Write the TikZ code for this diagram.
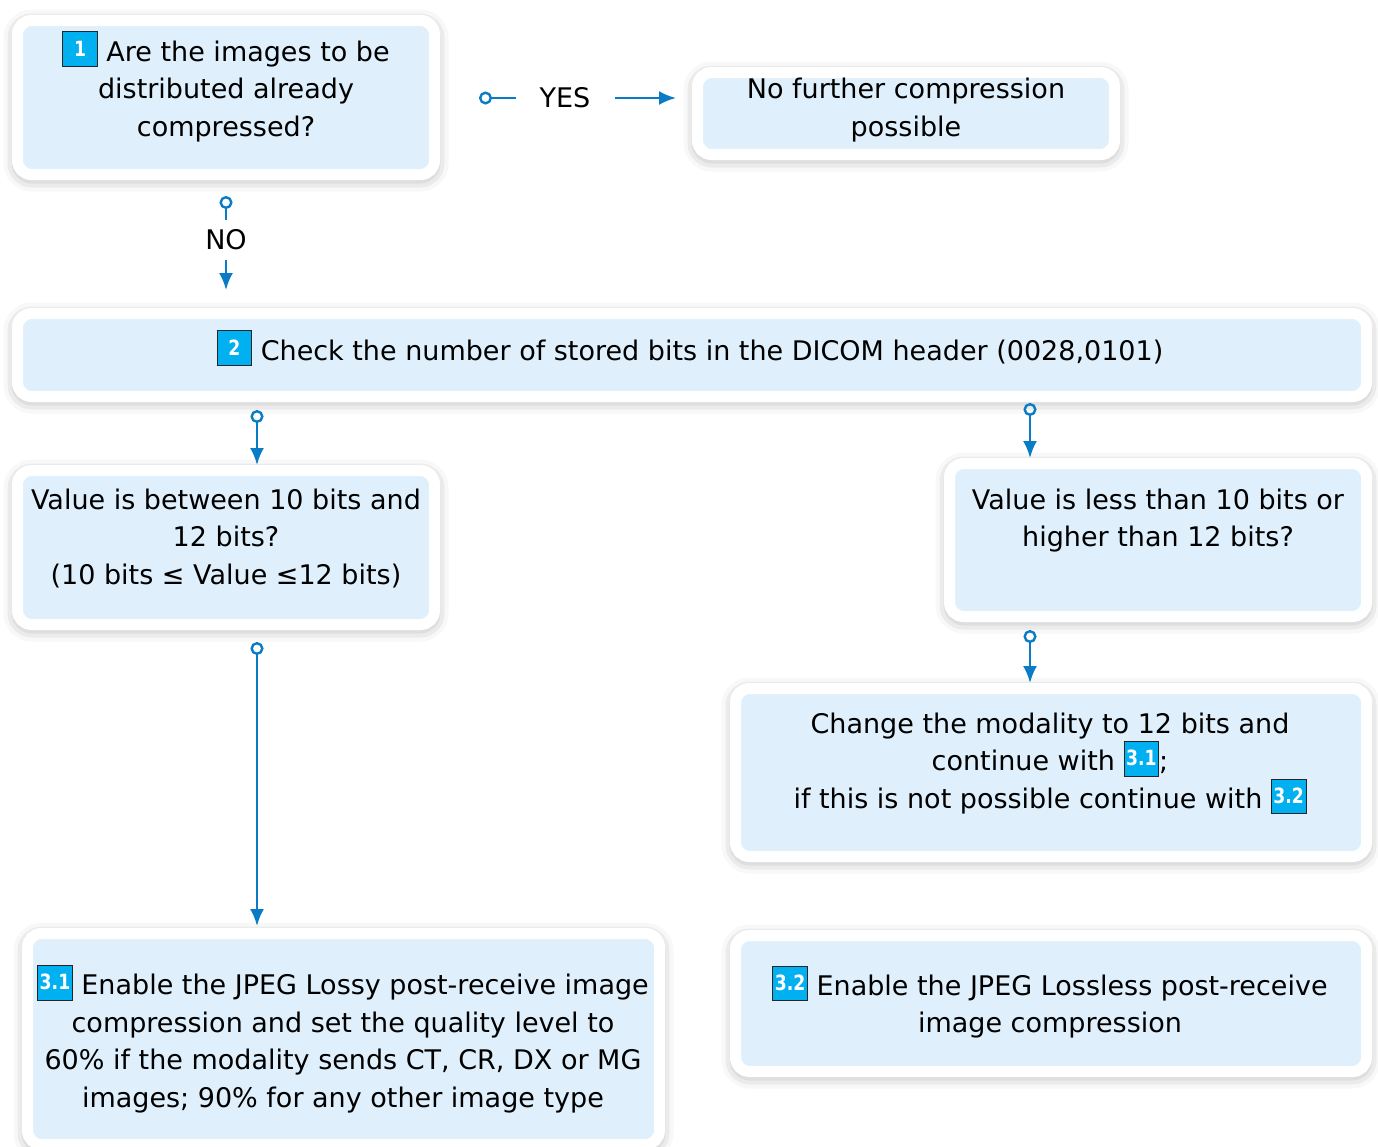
\documentclass[tikz,border=0pt]{standalone}
\usepackage{fontspec}
\setmainfont{DejaVu Sans}
\usetikzlibrary{arrows.meta,shadows.blur}

\definecolor{boxblue}{HTML}{DFF0FC}
\definecolor{linkblue}{HTML}{0A7CC6}
\definecolor{stepblue}{HTML}{00B0F0}

\setlength{\fboxrule}{0.8pt}
\setlength{\fboxsep}{3pt}
\newcommand{\stepno}[1]{\fcolorbox{black!85}{stepblue}{\makebox[28pt]{\rule[-2pt]{0pt}{28pt}\raisebox{5pt}{\color{white}\scalebox{0.82}[1]{\fontsize{21}{21}\selectfont\bfseries #1}}}}}

\tikzset{
  box/.style={draw=white, line width=11pt, fill=boxblue, rounded corners=14pt,
    inner sep=0pt, blur shadow={shadow xshift=0pt, shadow yshift=-3pt,
    shadow blur radius=14pt, shadow opacity=42}},
  txt/.style={align=center, inner sep=0pt, font=\fontsize{27}{37.5}\selectfont},
  linkline/.style={draw=linkblue, line width=2.4pt},
  link/.style={linkline, {Circle[open, length=13pt, width=13pt, line width=2.4pt]}-{Latex[length=17pt, width=14pt]}},
  linkstart/.style={linkline, {Circle[open, length=13pt, width=13pt, line width=2.4pt]}-},
  linkend/.style={linkline, -{Latex[length=17pt, width=14pt]}},
}

\begin{document}
\begin{tikzpicture}[x=1pt, y=-1pt]
\useasboundingbox (0,0) rectangle (1378,1146);

% boxes
\node[box, minimum width=417pt, minimum height=154pt] (q1) at (226,97.5) {};
\node[box, minimum width=417pt, minimum height=82pt] (nocomp) at (906,113.5) {};
\node[box, minimum width=1349pt, minimum height=83pt] (q2) at (692,355) {};
\node[box, minimum width=417pt, minimum height=154pt] (inrange) at (226,547.5) {};
\node[box, minimum width=417pt, minimum height=153pt] (outrange) at (1158,540) {};
\node[box, minimum width=631pt, minimum height=168pt] (change) at (1051,772.5) {};
\node[box, minimum width=632pt, minimum height=211pt] (lossy) at (343.5,1039) {};
\node[box, minimum width=631pt, minimum height=136pt] (lossless) at (1051,1003.5) {};

% texts
\node[txt] (q1t) at (226,86.5) {\stepno{1} Are the images to be\\distributed already\\compressed?};
\node[txt] (nocompt) at (906,110) {No further compression\\possible};
\node[txt] (q2t) at (690,348) {\stepno{2} Check the number of stored bits in the DICOM header (0028,0101)};
\node[txt] (inranget) at (226,538.5) {Value is between 10 bits and\\12 bits?\\(10 bits ≤ Value ≤12 bits)};
\node[txt] (outranget) at (1158,520.5) {Value is less than 10 bits or\\higher than 12 bits?};
\node[txt] (changet) at (1050,763.5) {Change the modality to 12 bits and\\continue with \stepno{3.1};\\if this is not possible continue with \stepno{3.2}};
\node[txt] (lossyt) at (343,1039) {\stepno{3.1} Enable the JPEG Lossy post-receive image\\compression and set the quality level to\\60\% if the modality sends CT, CR, DX or MG\\images; 90\% for any other image type};
\node[txt] (losslesst) at (1050,1002) {\stepno{3.2} Enable the JPEG Lossless post-receive\\image compression};

% yes / no
\node[txt] (yes) at (565,98) {YES};
\node[txt] (no) at (226,240) {NO};
\draw[linkstart, shorten <=39pt, shorten >=23pt] (q1.east |- yes) -- (yes.west);
\draw[linkend, shorten <=24pt, shorten >=16pt] (yes.east) -- (yes.east -| nocomp.west);
\draw[linkstart, shorten <=16pt, shorten >=10pt] (q1.south) -- (no.north);
\draw[linkend, shorten <=10pt, shorten >=18pt] (no.south) -- (q2.north -| no);

% checks
\draw[link, shorten <=8pt] ([xshift=31pt]inrange.north |- q2.south) -- ([xshift=31pt]inrange.north);
\draw[link, shorten <=1pt] ([xshift=-128pt]outrange.north |- q2.south) -- ([xshift=-128pt]outrange.north);
\draw[link, shorten <=8pt] ([xshift=-21pt]change.north |- outrange.south) -- ([xshift=-21pt]change.north);
\draw[link, shorten <=12pt, shorten >=2pt] ([xshift=-86.5pt]lossy.north |- inrange.south) -- ([xshift=-86.5pt]lossy.north);
\end{tikzpicture}
\end{document}
